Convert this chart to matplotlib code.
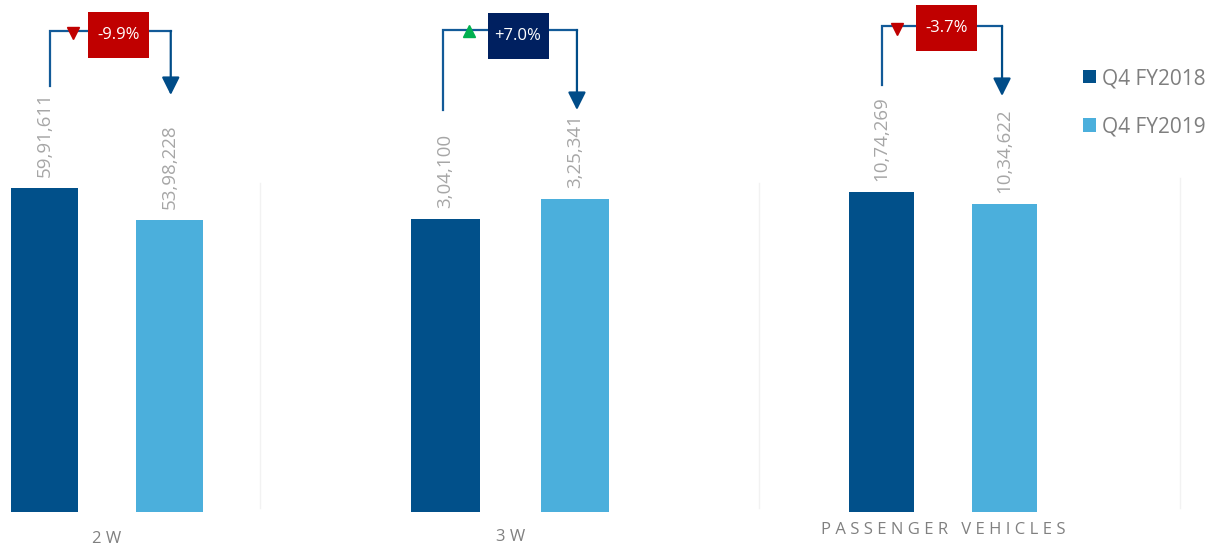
import numpy as np
import matplotlib
matplotlib.use("Agg")
import matplotlib.pyplot as plt
from matplotlib.patches import Rectangle, Patch
from matplotlib.lines import Line2D

plt.rcParams["font.family"] = ["Open Sans", "DejaVu Sans"]

# data
categories = ["2 W", "3 W", "P A S S E N G E R   V E H I C L E S"]
series     = ["Q4 FY2018", "Q4 FY2019"]
fy2018     = [5991611, 304100, 1074269]
fy2019     = [5398228, 325341, 1034622]

def indian(n):
    s = str(n)
    head, tail = s[:-3], s[-3:]
    parts = []
    while len(head) > 2:
        parts.insert(0, head[-2:]); head = head[:-2]
    if head: parts.insert(0, head)
    return ",".join(parts + [tail]) if parts else tail

DARK, LIGHT = "#01508A", "#4BAFDC"
RED, NAVY, GREEN = "#C00000", "#002060", "#00B050"
LINE = "#125A98"
VAL_GRAY, CAT_GRAY = "#A6A6A6", "#808080"

W, H = 1210, 556
fig = plt.figure(figsize=(W / 100, H / 100), dpi=100)
fig.patch.set_facecolor("white")

# per-panel layout (pixels)
bar0_px  = [44.5, 445.5, 881.5]
step_px  = [125, 129.5, 123]
ymax     = [9.47e6, 5.32e5, 1.719e6]
tick_pad = [14, 12, 7]
left_dx  = [0.04, -0.02, 0.0]
right_dx = [0.01, 0.015, -0.02]
top_row  = [31, 30, 26]
start_row = [86, 110, 85]
tip_row  = [95, 110, 96]
box_dx   = [0.59, 0.56, 0.53]
box_row  = [35, 36, 28]
mark_dx  = [0.23, 0.18, 0.13]
mark_row = [33, 31, 29]

AX_BOT, AX_H = 44, 512
frac = lambda row: (AX_H - row) / AX_H

for i, cat in enumerate(categories):
    left = bar0_px[i] - 0.5 * step_px[i]
    ax = fig.add_axes([left / W, AX_BOT / H, 2 * step_px[i] / W, AX_H / H])
    ax.set_xlim(-0.5, 1.5)
    ax.set_ylim(0, ymax[i])
    ax.patch.set_alpha(0)
    vals = [fy2018[i], fy2019[i]]
    ax.bar([0, 1], vals, width=0.53, color=[DARK, LIGHT])
    for x, v in zip([0, 1], vals):
        ax.annotate(indian(v), (x, v), xytext=(0, 8), textcoords="offset points",
                    rotation=90, ha="center", va="bottom", color=VAL_GRAY, fontsize=13.5)
    for sp in ax.spines.values(): sp.set_visible(False)
    ax.set_yticks([])
    ax.set_xticks([0.5])
    ax.set_xticklabels([cat], color=CAT_GRAY, fontsize=12)
    ax.tick_params(axis="x", length=0, pad=tick_pad[i])

    tr = ax.get_xaxis_transform()
    lx, rx = left_dx[i], 1 + right_dx[i]
    ax.plot([lx, lx, rx], [frac(start_row[i]), frac(top_row[i]), frac(top_row[i])],
            color=LINE, lw=1.6, transform=tr, clip_on=False, solid_joinstyle="miter")
    ax.annotate("", xy=(rx, frac(tip_row[i])), xytext=(rx, frac(top_row[i])),
                xycoords=tr, textcoords=tr,
                arrowprops=dict(arrowstyle="-|>", color="#004C88", lw=1.6,
                                mutation_scale=27, shrinkA=0, shrinkB=0))
    change = fy2019[i] / fy2018[i] - 1
    bw, bh = 61 / step_px[i], 46 / AX_H
    bc = NAVY if change > 0 else RED
    ax.add_patch(Rectangle((box_dx[i] - bw / 2, frac(box_row[i]) - bh / 2), bw, bh,
                           transform=tr, facecolor=bc, edgecolor="none", clip_on=False, zorder=3))
    ax.text(box_dx[i], frac(box_row[i]), f"{change * 100:+.1f}%", transform=tr,
            ha="center", va="center", color="white", fontsize=12, zorder=4)
    ax.plot([mark_dx[i]], [frac(mark_row[i])], marker="^" if change > 0 else "v",
            color=GREEN if change > 0 else RED, markersize=9, transform=tr, clip_on=False, zorder=4)

# faint separators
for x, y0 in [(260, 183), (759, 183), (1180, 178)]:
    fig.add_artist(Line2D([x / W, x / W], [1 - y0 / H, 1 - 508 / H], color="#F2F2F2", lw=1))

handles = [Patch(facecolor=DARK), Patch(facecolor=LIGHT)]
fig.legend(handles, series, loc="upper left", bbox_to_anchor=(1083 / W, 1 - 68 / H),
           frameon=False, fontsize=15, handlelength=0.63, handleheight=0.63,
           handletextpad=0.28, labelspacing=1.3, borderpad=0, borderaxespad=0,
           labelcolor="#7F7F7F")

fig.savefig("out.png", dpi=100, facecolor="white")
